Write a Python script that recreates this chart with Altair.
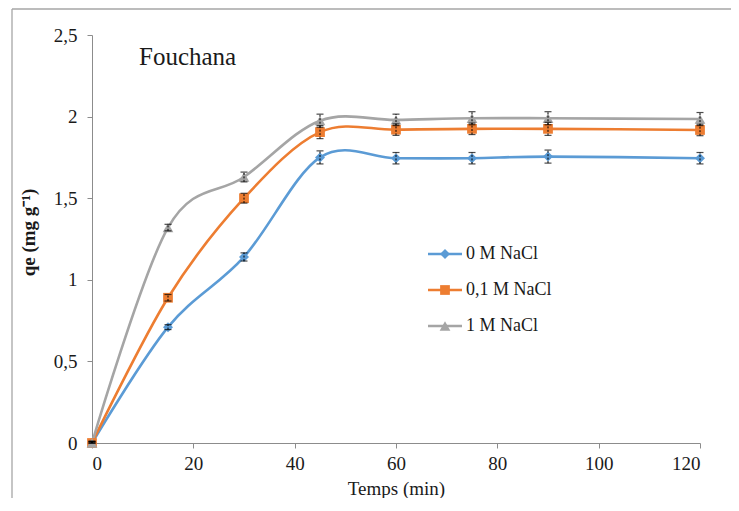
import altair as alt
import pandas as pd

# ---- data ----
time_min = [0, 15, 30, 45, 60, 75, 90, 120]
series_names = ["0 M NaCl", "0,1 M NaCl", "1 M NaCl"]
q_0M = [0.0, 0.71, 1.14, 1.75, 1.745, 1.745, 1.755, 1.745]
q_01M = [0.0, 0.89, 1.50, 1.905, 1.92, 1.925, 1.925, 1.918]
q_1M = [0.0, 1.32, 1.63, 1.975, 1.98, 1.99, 1.99, 1.985]
err_0M = [0.01, 0.015, 0.025, 0.04, 0.035, 0.035, 0.04, 0.035]
err_01M = [0.01, 0.02, 0.03, 0.04, 0.035, 0.035, 0.04, 0.035]
err_1M = [0.01, 0.02, 0.03, 0.04, 0.035, 0.04, 0.04, 0.04]
colors = ["#5B9BD5", "#ED7D31", "#A5A5A5"]
shapes = ["diamond", "square", "triangle-up"]
marker_sizes = [100, 95, 115]
panel_label = "Fouchana"
x_title = "Temps (min)"
y_title = "qe (mg g\u207b\u00b9)"

rows = []
for name, qs, es in zip(series_names, [q_0M, q_01M, q_1M], [err_0M, err_01M, err_1M]):
    for t, q, e in zip(time_min, qs, es):
        rows.append({"t": t, "q": q, "lo": max(q - e, 0), "hi": q + e, "series": name})
df = pd.DataFrame(rows)
legend_df = pd.DataFrame({"series": series_names})

FONT = "Liberation Serif"

xs = alt.X("t:Q", scale=alt.Scale(domain=[0, 120], nice=False),
           axis=alt.Axis(values=[0, 20, 40, 60, 80, 100, 120], title=x_title,
                         titleY=45, titleBaseline="middle", titleFontWeight="normal",
                         titleFontSize=19, labelPadding=6))
ys = alt.Y("q:Q", scale=alt.Scale(domain=[0, 2.5], nice=False),
           axis=alt.Axis(values=[0, 0.5, 1, 1.5, 2, 2.5],
                         labelExpr="replace(toString(datum.value), '.', ',')",
                         title=y_title, titleFontWeight="bold", titleFontSize=19,
                         titleX=-64, titleY=197, titleAngle=-90,
                         titleAlign="center", titleBaseline="middle",
                         labelPadding=10))

base = alt.Chart(df)
series_scale = alt.Scale(domain=series_names, range=colors)

lines = base.mark_line(interpolate="cardinal", strokeWidth=2.6).encode(
    x=xs, y=ys,
    stroke=alt.Stroke("series:N", scale=series_scale, legend=None),
    detail="series:N",
)

point_layers = []
for name, shp, sz in zip(series_names, shapes, marker_sizes):
    point_layers.append(
        base.transform_filter(alt.datum.series == name)
        .mark_point(filled=True, opacity=1, shape=shp, size=sz, strokeWidth=0)
        .encode(x="t:Q", y="q:Q",
                fill=alt.Fill("series:N", scale=series_scale, legend=None))
    )

err_rules = base.mark_rule(color="black", strokeWidth=1, strokeDash=[2, 1.5]).encode(
    x="t:Q", y="lo:Q", y2="hi:Q")
cap_lo = base.mark_tick(color="black", thickness=1.2, size=7, orient="horizontal").encode(
    x="t:Q", y="lo:Q")
cap_hi = base.mark_tick(color="black", thickness=1.2, size=7, orient="horizontal").encode(
    x="t:Q", y="hi:Q")

# legend drawn inside the plot: line + marker + label per series
LEG_X0, LEG_X1, LEG_Y0, LEG_DY = 336, 370, 219, 36
legend_layers = []
for i, (name, shp, sz) in enumerate(zip(series_names, shapes, marker_sizes)):
    ly = LEG_Y0 + LEG_DY * i
    src = alt.Chart(legend_df).transform_filter(alt.datum.series == name)
    legend_layers.append(src.mark_rule(strokeWidth=2.6).encode(
        x=alt.value(LEG_X0), x2=alt.value(LEG_X1), y=alt.value(ly),
        stroke=alt.Stroke("series:N", scale=series_scale, legend=None)))
    legend_layers.append(src.mark_point(filled=True, opacity=1, shape=shp, size=sz,
                                        strokeWidth=0).encode(
        x=alt.value((LEG_X0 + LEG_X1) / 2), y=alt.value(ly),
        fill=alt.Fill("series:N", scale=series_scale, legend=None)))
    legend_layers.append(src.mark_text(font=FONT, fontSize=18, align="left",
                                       baseline="middle", color="#1a1a1a").encode(
        x=alt.value(LEG_X1 + 4), y=alt.value(ly), text="series:N"))

label = alt.Chart(alt.Data(values=[{"txt": panel_label}])).mark_text(
    font=FONT, fontSize=25, align="left", baseline="middle", color="#1a1a1a"
).encode(text="txt:N", x=alt.value(47), y=alt.value(22))

# outer chart frame (only its top and left edges fall inside the picture)
frame_src = alt.Chart(alt.Data(values=[{"b": 1}]))
frame_top = frame_src.mark_rule(color="#a6a6a6", strokeWidth=1.3).encode(
    x=alt.value(-80), x2=alt.value(700), y=alt.value(-26))
frame_left = frame_src.mark_rule(color="#a6a6a6", strokeWidth=1.3).encode(
    x=alt.value(-80), y=alt.value(-26), y2=alt.value(480))

chart = alt.layer(frame_top, frame_left, lines, *point_layers, err_rules, cap_lo, cap_hi,
                  *legend_layers, label).properties(
    width=608, height=408,
    autosize=alt.AutoSizeParams(type="none"),
    padding={"left": 84, "top": 27, "right": 31, "bottom": 55},
).configure_view(strokeWidth=0).configure_axis(
    grid=False, domainColor="#8c8c8c", tickColor="#8c8c8c", tickSize=5,
    labelFont=FONT, labelFontSize=19, labelColor="#1a1a1a",
    titleFont=FONT, titleColor="#1a1a1a",
)

chart.save("out.html", embed_options={"renderer": "svg", "actions": False})
